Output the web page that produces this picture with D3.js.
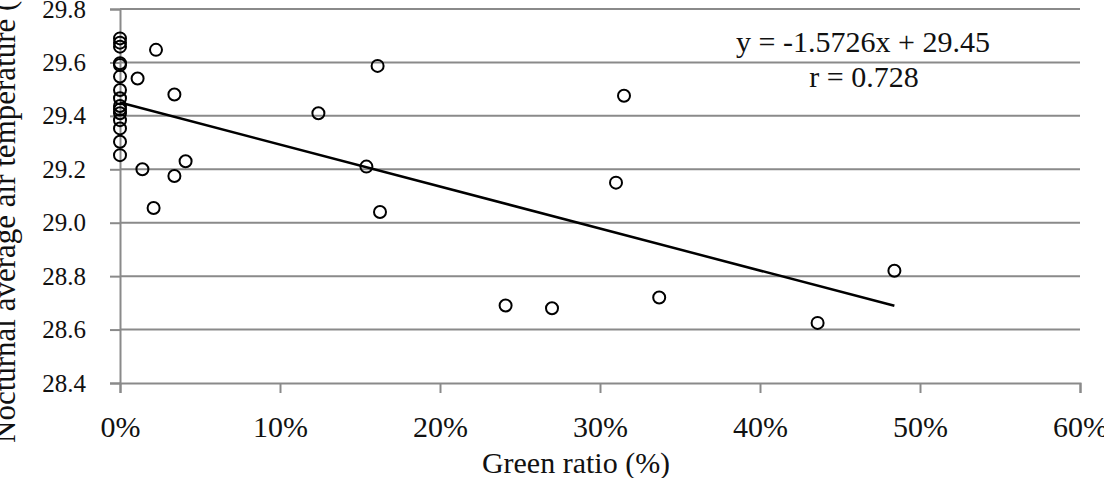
<!DOCTYPE html>
<html>
<head>
<meta charset="utf-8">
<script src="https://cdnjs.cloudflare.com/ajax/libs/d3/7.8.5/d3.min.js"></script>
<style>
  body { margin: 0; background: #fff; }
  text { font-family: "Liberation Serif", "Times New Roman", serif; fill: #111; }
</style>
</head>
<body>
<svg></svg>
<script>
const width = 1104;
const height = 478;

// green ratio (fraction) and nocturnal average air temperature (°C)
const greenRatio = [
    0, 0, 0, 0, 0, 0, 0, 0, 0, 0, 0, 0, 0, 0, 0,
    0.0225, 0.011, 0.034, 0.041, 0.014, 0.034, 0.021,
    0.124, 0.161, 0.154, 0.1625, 0.241, 0.270,
    0.315, 0.310, 0.337, 0.436, 0.484
];
const temperature = [
    29.69, 29.674, 29.659, 29.597, 29.59, 29.547, 29.497, 29.466, 29.437, 29.424, 29.41, 29.384, 29.353, 29.303, 29.253,
    29.647, 29.54, 29.48, 29.23, 29.20, 29.175, 29.055,
    29.41, 29.587, 29.21, 29.04, 28.69, 28.68,
    29.475, 29.15, 28.72, 28.625, 28.82
];

const yTicks = [28.4, 28.6, 28.8, 29.0, 29.2, 29.4, 29.6, 29.8];
const xTicks = [0, 0.1, 0.2, 0.3, 0.4, 0.5, 0.6];

const slope = -1.5726;
const intercept = 29.45;
const trendRange = [0, 0.484];
const equationLabel = 'y = -1.5726x + 29.45';
const rLabel = 'r = 0.728';

const data = greenRatio.map((g, i) => ({ x: g, y: temperature[i] }));

const svg = d3.select('svg')
    .attr('width', width)
    .attr('height', height);

const xScale = d3.scaleLinear().domain([0, 0.6]).range([120, 1080]);
const yScale = d3.scaleLinear().domain([28.4, 29.8]).range([383, 9]);

const grey = '#8a8a8a';

// horizontal gridlines
svg.append('g')
    .selectAll('line')
    .data(yTicks.slice(1))
    .enter()
    .append('line')
    .attr('x1', xScale(0))
    .attr('x2', xScale(0.6))
    .attr('y1', d => yScale(d))
    .attr('y2', d => yScale(d))
    .attr('stroke', grey)
    .attr('stroke-width', 2);

const xAxis = d3.axisBottom(xScale)
    .tickValues(xTicks)
    .tickFormat(d3.format('.0%'))
    .tickSize(10)
    .tickPadding(23);

const yAxis = d3.axisLeft(yScale)
    .tickValues(yTicks)
    .tickFormat(d3.format('.1f'))
    .tickSize(10)
    .tickPadding(24);

const gx = svg.append('g')
    .attr('transform', 'translate(0,' + yScale(28.4) + ')')
    .call(xAxis);

const gy = svg.append('g')
    .attr('transform', 'translate(' + xScale(0) + ',0)')
    .call(yAxis);

[gx, gy].forEach(g => {
    g.attr('font-family', null);
    g.select('.domain').attr('stroke', grey).attr('stroke-width', 2);
    g.selectAll('.tick line').attr('stroke', grey).attr('stroke-width', 2);
    g.selectAll('.tick text').attr('fill', '#111');
});
gx.selectAll('.tick text').style('font-size', '30px');
gy.selectAll('.tick text').style('font-size', '25px');

// trendline
svg.append('line')
    .attr('x1', xScale(trendRange[0]))
    .attr('y1', yScale(intercept + slope * trendRange[0]))
    .attr('x2', xScale(trendRange[1]))
    .attr('y2', yScale(intercept + slope * trendRange[1]))
    .attr('stroke', '#000')
    .attr('stroke-width', 2.5);

// points
svg.append('g')
    .selectAll('circle')
    .data(data)
    .enter()
    .append('circle')
    .attr('cx', d => xScale(d.x))
    .attr('cy', d => yScale(d.y))
    .attr('r', 6)
    .attr('fill', 'none')
    .attr('stroke', '#000')
    .attr('stroke-width', 2);

// equation
svg.append('text')
    .attr('x', 863)
    .attr('y', 52)
    .attr('text-anchor', 'middle')
    .style('font-size', '30px')
    .text(equationLabel);

svg.append('text')
    .attr('x', 864)
    .attr('y', 87)
    .attr('text-anchor', 'middle')
    .style('font-size', '30px')
    .text(rLabel);

// axis titles
svg.append('text')
    .attr('x', 576)
    .attr('y', 473)
    .attr('text-anchor', 'middle')
    .style('font-size', '30px')
    .text('Green ratio (%)');

svg.append('text')
    .attr('transform', 'translate(15,443) rotate(-90)')
    .attr('text-anchor', 'start')
    .style('font-size', '31px')
    .text('Nocturnal average air temperature (°C)');
</script>
</body>
</html>
